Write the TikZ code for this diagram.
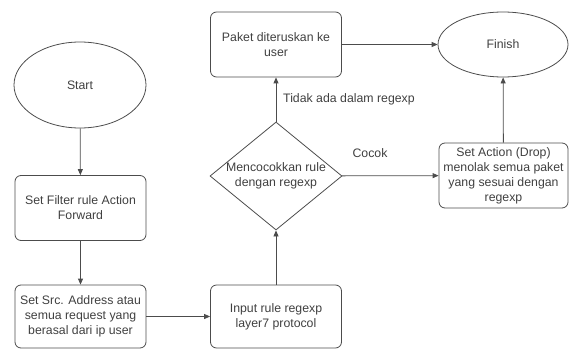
\documentclass[tikz,border=0pt]{standalone}
\usepackage{fontspec}
\setmainfont{Liberation Sans}
\usetikzlibrary{shapes.geometric,arrows.meta}
\begin{document}
\begin{tikzpicture}[x=1pt,y=-1pt,
  every node/.style={font=\fontsize{12.3}{15}\selectfont, text=black!75, align=center},
  proc/.style={draw=black!70, line width=0.8pt, rounded corners=6pt, minimum width=131pt, minimum height=65pt, inner sep=1pt},
  term/.style={draw=black!70, line width=0.8pt, ellipse, inner sep=0pt},
  deci/.style={draw=black!70, line width=0.8pt, diamond, inner sep=0pt},
  conn/.style={draw=black!70, line width=0.8pt, -{Triangle[length=6pt,width=5pt]}},
  lbl/.style={inner sep=0pt}
]
\useasboundingbox (0,0) rectangle (569,350);
\node[term, minimum width=132pt, minimum height=86pt] (start) at (80,85) {Start};
\node[proc] (filter) at (80.5,208) {Set Filter rule Action\\Forward};
\node[proc, minimum height=63pt] (src) at (80.5,316.5) {Set Src. Address atau\\semua request yang\\berasal dari ip user};
\node[proc, minimum height=63pt] (input) at (276,316.5) {Input rule regexp\\layer7 protocol};
\node[deci, minimum width=132pt, minimum height=108pt] (dec) at (276,176) {};
\node at (276,176) {Mencocokkan rule\\dengan regexp};
\node[proc] (paket) at (276,44.5) {Paket diteruskan ke\\user};
\node[term, minimum width=130pt, minimum height=65pt] (finish) at (503,44.5) {Finish};
\node[proc, minimum width=129pt] (drop) at (503.5,175.5) {Set Action (Drop)\\menolak semua paket\\yang sesuai dengan\\regexp};
\draw[conn] (start) -- (filter);
\draw[conn] (filter) -- (src);
\draw[conn] (src) -- (input);
\draw[conn] (input) -- (dec);
\draw[conn] (dec) -- (paket);
\draw[conn] (dec) -- (drop);
\draw[conn] (paket) -- (finish);
\draw[conn] (drop) -- (finish);
\node[lbl, anchor=west] (tidak) at (283,99) {Tidak ada dalam regexp};
\node[lbl] (cocok) at (370,153) {Cocok};
\end{tikzpicture}
\end{document}
